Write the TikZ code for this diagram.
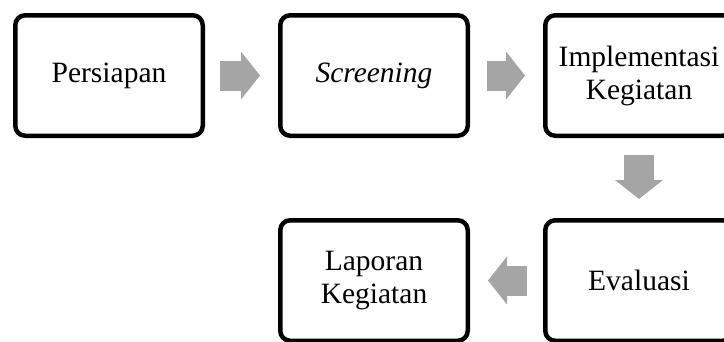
\documentclass[tikz,border=0pt]{standalone}
\usepackage{fontspec}
\setmainfont{Liberation Serif}
\definecolor{arrowgray}{RGB}{165,165,165}
\usetikzlibrary{arrows.meta, positioning}
\tikzset{
node distance=265pt, % distance between the centres of two neighbouring boxes
every step box/.style={draw=black, line width=4.5pt, rounded corners=10pt, minimum width=187.5pt, minimum height=120.5pt, align=center, font=\fontsize{29.5}{33}\selectfont}, % the five boxes
stepbox/.style={every step box},
blockarrow/.style={draw=arrowgray, line width=30pt, -{Triangle[length=19pt 0 0, width=48pt 0 0, line width=0pt 0 0]}}, % the thick grey arrows
}
\begin{document}
\begin{tikzpicture}
      \useasboundingbox (0,0) rectangle (724pt,-341pt);

      \node[stepbox] (persiapan) at (109pt,-75.5pt) {Persiapan};
      \node[stepbox, right of=persiapan] (screening) {\itshape Screening};
      \node[stepbox, right of=screening] (implementasi) {Implementasi\\Kegiatan};
      \node[stepbox, below of=implementasi, yshift=60pt] (evaluasi) {Evaluasi};
      \node[stepbox, left of=evaluasi] (laporan) {Laporan\\Kegiatan};

      \draw[blockarrow, shorten <=15pt, shorten >=18pt] (persiapan) -- (screening);
      \draw[blockarrow, shorten <=17pt, shorten >=18pt] (screening) -- (implementasi);
      \draw[blockarrow, shorten <=17pt, shorten >=19pt] (implementasi) -- (evaluasi);
      \draw[blockarrow, shorten <=16pt, shorten >=18pt] (evaluasi) -- (laporan);
    \end{tikzpicture}
\end{document}
